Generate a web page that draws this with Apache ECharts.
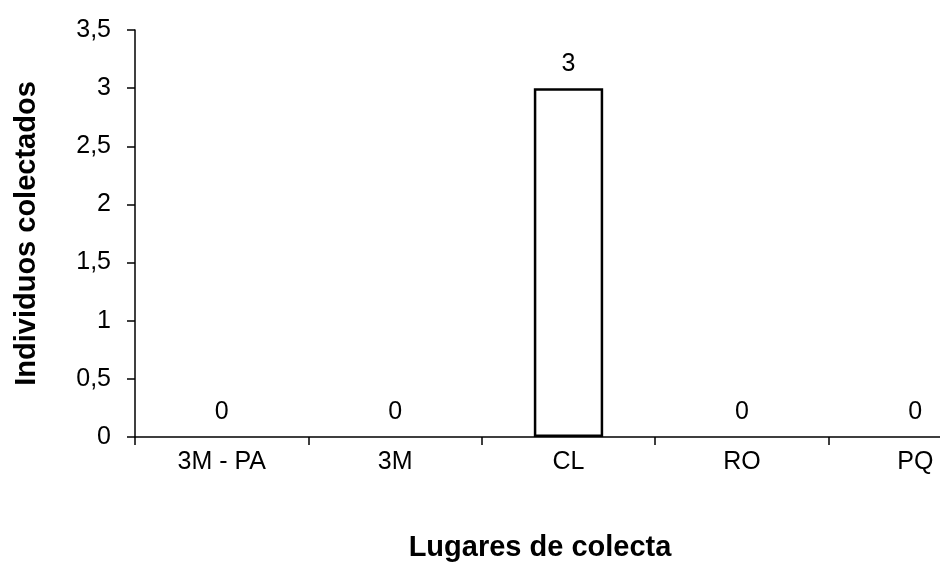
<!DOCTYPE html>
<html><head><meta charset="utf-8">
<script src="https://cdn.jsdelivr.net/npm/echarts@6/dist/echarts.min.js"></script>
<style>html,body{margin:0;padding:0;background:#fff}#c{width:940px;height:565px}</style>
</head><body><div id="c"></div>
<script>
const categories = ["3M - PA", "3M", "CL", "RO", "PQ"];
const values = [0, 0, 3, 0, 0];
const yTicks = [0, 0.5, 1, 1.5, 2, 2.5, 3, 3.5];

const chart = echarts.init(document.getElementById('c'));
const font = 'Arial, "Liberation Sans", sans-serif';
chart.setOption({
  animation: false,
  backgroundColor: '#fff',
  grid: { left: 135, top: 30, width: 867, height: 407, outerBoundsMode: 'none', containLabel: false },
  xAxis: {
    type: 'category', data: categories,
    axisLine: { lineStyle: { color: '#000', width: 1.5 } },
    axisTick: { show: true, length: 8, lineStyle: { color: '#000', width: 1.5 } },
    axisLabel: { color: '#000', fontSize: 25, fontFamily: font, margin: 13 }
  },
  yAxis: {
    type: 'value', min: 0, max: 3.5, interval: 0.5,
    name: 'Individuos colectados', nameLocation: 'middle', nameGap: 94,
    nameTextStyle: { color: '#000', fontSize: 29, fontWeight: 'bold', fontFamily: font },
    axisLine: { show: true, lineStyle: { color: '#000', width: 1.5 } },
    axisTick: { show: true, length: 8, lineStyle: { color: '#000', width: 1.5 } },
    splitLine: { show: false },
    axisLabel: { color: '#000', fontSize: 25, fontFamily: font, margin: 24,
      formatter: v => yTicks.includes(v) ? String(v).replace('.', ',') : '' }
  },
  graphic: [{
    type: 'text', x: 540, y: 548,
    style: { text: 'Lugares de colecta', fill: '#000', fontSize: 29, fontWeight: 'bold',
      fontFamily: font, align: 'center', verticalAlign: 'middle' }
  }],
  series: [{
    type: 'bar', barWidth: '40%',
    data: values.map(v => ({ value: v, itemStyle: v === 0 ? { borderWidth: 0 } : {} })),
    itemStyle: { color: '#fff', borderColor: '#000', borderWidth: 2.5 },
    label: { show: true, position: 'top', distance: 12, color: '#000', fontSize: 25, fontFamily: font }
  }]
});
</script></body></html>
